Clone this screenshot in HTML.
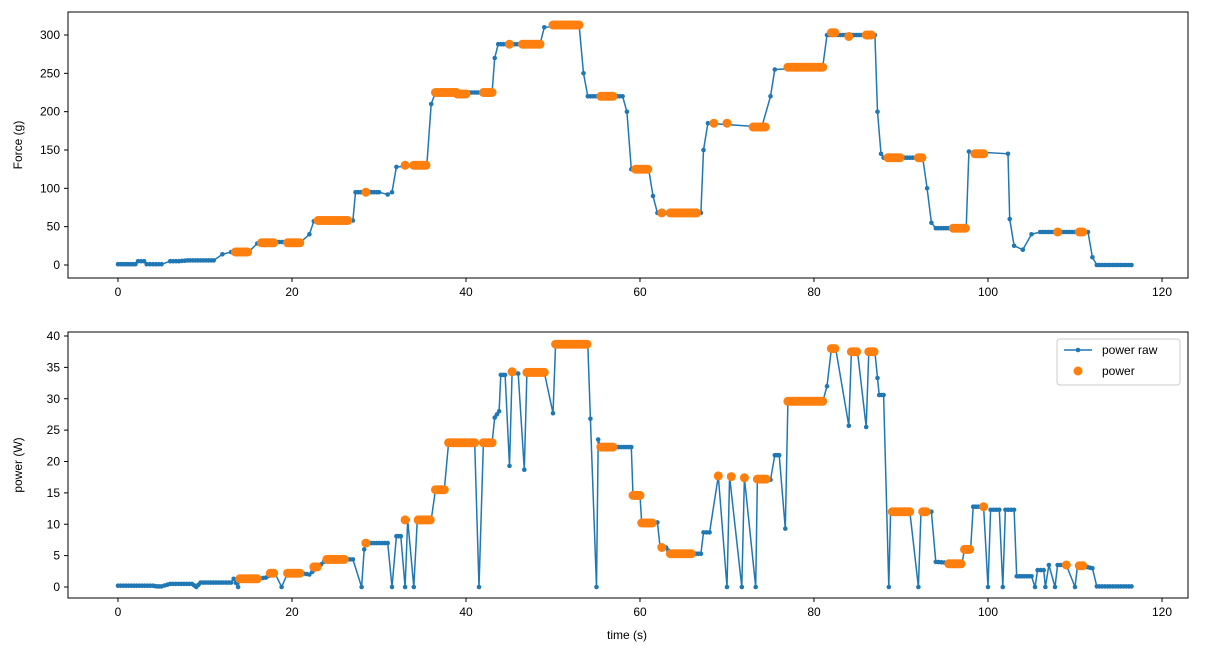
<!DOCTYPE html>
<html><head><meta charset="utf-8"><style>
body{margin:0;background:#fff}
svg{display:block;font-family:"Liberation Sans","DejaVu Sans",sans-serif}
</style></head><body>
<svg id="s" width="1214" height="654" xmlns="http://www.w3.org/2000/svg"></svg>
<script>
const S=document.getElementById('s');
let h='';
const X=t=>118+t*8.7;
function axes(y0,y1,yz,ytop,ymax,ystep,ylabel,xlabel){
  const Y=v=>yz+(ytop-yz)*v/ymax;
  h+=`<rect x="68" y="${y0}" width="1120" height="${y1-y0}" fill="none" stroke="#000" stroke-width="1"/>`;
  for(let t=0;t<=120;t+=20){h+=`<line x1="${X(t)}" x2="${X(t)}" y1="${y1}" y2="${y1+4}" stroke="#000"/><text x="${X(t)}" y="${y1+18}" font-size="12" text-anchor="middle">${t}</text>`;}
  for(let v=0;v<=ymax;v+=ystep){h+=`<line x1="64" x2="68" y1="${Y(v)}" y2="${Y(v)}" stroke="#000"/><text x="60" y="${Y(v)+4}" font-size="12" text-anchor="end">${v}</text>`;}
  const cy=(y0+y1)/2;
  h+=`<text x="22" y="${cy}" font-size="12" text-anchor="middle" transform="rotate(-90 22 ${cy})">${ylabel}</text>`;
  if(xlabel)h+=`<text x="627" y="639" font-size="12" text-anchor="middle">${xlabel}</text>`;
  return Y;
}
function series(pts,Y,orange){
  let d=[];
  for(let i=0;i<pts.length;i++){
    const[a,b]=pts[i];
    if(i>0){const[pa,pb]=pts[i-1];
      if(Math.abs(b-pb)<1.5){const n=Math.max(1,Math.round((a-pa)/0.3));
      for(let k=1;k<n;k++)d.push([pa+(a-pa)*k/n,pb+(b-pb)*k/n]);}}
    d.push([a,b]);
  }
  h+=`<polyline fill="none" stroke="#1f77b4" stroke-width="1.5" points="${d.map(p=>X(p[0]).toFixed(1)+','+Y(p[1]).toFixed(1)).join(' ')}"/>`;
  d.forEach(p=>h+=`<circle cx="${X(p[0]).toFixed(1)}" cy="${Y(p[1]).toFixed(1)}" r="2.3" fill="#1f77b4"/>`);
  orange.forEach(o=>{const[a,b,v]=o.length==3?o:[o[0],o[0],o[1]];
    for(let t=a;t<=b+1e-6;t+=0.2)h+=`<circle cx="${X(t).toFixed(1)}" cy="${Y(v).toFixed(1)}" r="4.5" fill="#ff7f0e"/>`;});
}
let Y1=axes(12,278,265,35,300,50,'Force (g)');
series([[0,1],[2,1],[2.3,5],[3,5],[3.3,1],[4,1],[5,1],[6,5],[7,5],[8,6],[11,6],[12,14],[13,17],[15,17],[16,28],[17,30],[21,30],[22,40],[22.5,57],[27,58],[27.3,95],[30,95],[31,92],[31.5,95],[32,128],[35.5,130],[36,210],[36.5,225],[43,225],[43.3,270],[43.7,288],[48.5,288],[49,310],[53,313],[53.5,250],[54,220],[58,220],[58.5,200],[59,125],[61,125],[61.5,90],[62,68],[67,68],[67.3,150],[67.8,185],[74,180],[75,220],[75.5,255],[81,258],[81.5,300],[87,300],[87.3,200],[87.7,145],[88,140],[92.5,140],[93,100],[93.5,55],[94,48],[97.5,48],[97.8,148],[102.3,145],[102.5,60],[103,25],[104,20],[105,40],[106,43],[111.5,43],[112,10],[112.5,0],[116.5,0]],Y1,
[[13.5,15,17],[16.5,18,29],[19.5,21,29],[23,26.5,58],[28.5,95],[33,130],[34,35.5,130],[36.5,39,225],[39,40,223],[42,43,225],[45,288],[46.5,48.5,288],[50,53,313],[55.5,57,220],[59.5,61,125],[62.5,68],[63.5,66.5,68],[68.5,185],[70,185],[73,74.5,180],[77,81,258],[82,82.4,303],[84,298],[86,86.6,300],[88.5,90,140],[92,92.4,140],[96,97.5,48],[98.5,99.5,145],[108,43],[110.5,111,43]]);
let Y2=axes(332,598,587,336,40,5,'power (W)','time (s)');
series([[0,0.2],[4,0.2],[4.5,0.1],[5,0.1],[6,0.5],[8.5,0.5],[9,0],[9.5,0.7],[13,0.7],[13.3,1.3],[13.8,0],[14,1.3],[16,1.3],[17,1.5],[18,2.3],[18.8,0],[19.5,2.2],[21,2.2],[22,2],[23,3.2],[24,4.4],[27,4.4],[28,0],[28.3,6],[28.5,7],[31,7],[31.5,0],[32,8.1],[32.5,8.1],[33,0],[33.3,10.7],[34,0],[34.4,10.7],[36,10.7],[36.5,15.5],[37.5,15.5],[38,23],[41,23],[41.5,0],[42,23],[43,23],[43.3,27],[43.8,28],[44,33.8],[44.5,33.8],[45,19.3],[45.3,34.2],[46,34],[46.7,18.7],[47,34],[49,34.2],[50,27.7],[50.3,38.7],[54,38.7],[54.3,26.8],[55,0],[55.2,23.5],[55.5,22.3],[59,22.3],[59.2,14.6],[60,14.6],[60.2,10.2],[62,10.3],[62.3,6.5],[63,6.3],[63.5,5.3],[67,5.3],[67.3,8.7],[68,8.7],[69,17.7],[70,0],[70.3,17.6],[71.7,0],[72,17.4],[73.3,0],[73.5,17.5],[75,17.1],[75.5,21],[76,21],[76.7,9.3],[77,29.5],[81,29.5],[81.5,32],[82,38],[82.5,38],[84,25.7],[84.3,37.5],[85,37.5],[86,25.5],[86.3,37.5],[87,37.5],[87.3,33.3],[87.5,30.6],[88,30.6],[88.6,0],[88.8,12],[91,12.2],[92,0],[92.3,12],[93.5,12],[94,4],[95,3.9],[95.5,3.7],[97,3.7],[97.3,6],[98,6],[98.3,12.8],[99.5,12.8],[100,0],[100.3,12.3],[101.3,12.3],[101.7,0],[102,12.3],[103,12.3],[103.3,1.7],[105,1.7],[105.4,0],[105.7,2.7],[106.4,2.7],[106.6,0],[107,3.5],[107.7,0],[108,3.5],[109,3.5],[110,0],[110.3,3.5],[112,3],[112.5,0.1],[116.5,0.1]],Y2,
[[14,16,1.3],[17.5,18,2.2],[19.5,21,2.2],[22.5,23,3.2],[24,26,4.4],[28.5,7],[33,10.7],[34.5,36,10.7],[36.5,37.5,15.5],[38,41,23],[42,43,23],[45.3,34.3],[47,49,34.2],[50.3,54,38.7],[55.5,57,22.3],[59.2,60,14.6],[60.2,61.5,10.2],[62.5,6.3],[63.5,66,5.3],[69,17.7],[70.5,17.6],[72,17.4],[73.5,74.5,17.2],[77,81,29.6],[82,82.4,38],[84.3,85,37.5],[86.3,87,37.5],[89,91,12],[92.5,93,12],[95.5,97,3.7],[97.3,98,6],[99.5,12.8],[109,3.5],[110.5,111,3.4]]);
h+=`<rect x="1057" y="339" width="123" height="46" rx="3" fill="#fff" stroke="#ccc"/>`;
h+=`<line x1="1064" x2="1092" y1="350" y2="350" stroke="#1f77b4" stroke-width="1.5"/><circle cx="1078" cy="350" r="2.3" fill="#1f77b4"/><text x="1102" y="354" font-size="12">power raw</text>`;
h+=`<circle cx="1078" cy="371" r="4.5" fill="#ff7f0e"/><text x="1102" y="375" font-size="12">power</text>`;
S.innerHTML=h;
</script>
</body></html>
